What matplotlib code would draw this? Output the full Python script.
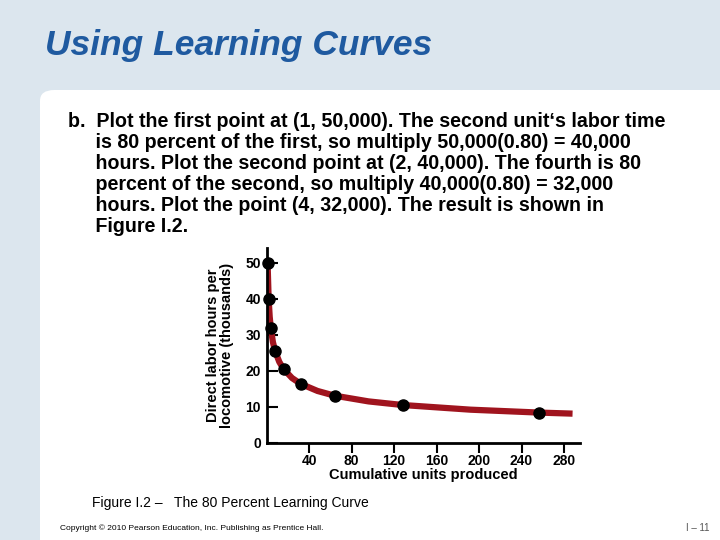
import matplotlib.pyplot as plt
from matplotlib.patches import FancyBboxPatch

plt.rcParams['font.family'] = ['Liberation Sans', 'DejaVu Sans']

units = [1, 2, 4, 8, 16, 32, 64, 128, 256]
hours = [50, 40, 32, 25.6, 20.5, 16.4, 13.1, 10.5, 8.4]
curve_x = [1, 2, 3, 4, 6, 8, 12, 16, 24, 32, 48, 64, 96, 128, 192, 256, 288]
curve_y = [50, 40, 35, 32, 28, 25.6, 22.5, 20.5, 18, 16.4, 14.4, 13.1, 11.5, 10.5, 9.2, 8.4, 8.1]
xticks = [40, 80, 120, 160, 200, 240, 280]
yticks = [0, 10, 20, 30, 40, 50]

fig = plt.figure(figsize=(7.2, 5.4), dpi=100)
fig.patch.set_facecolor('#dce6ee')
panel = FancyBboxPatch((40 / 720, -0.05), 0.99, 1 - 90 / 540 + 0.05,
                       boxstyle='round,pad=0,rounding_size=0.02',
                       transform=fig.transFigure, facecolor='white', edgecolor='none',
                       zorder=-10)
fig.patches.append(panel)

fig.text(45 / 720, 1 - 45 / 540, 'Using Learning Curves', fontsize=25.5, fontweight='bold',
         fontstyle='italic', color='#1f5aa0', va='center')

body = ("b.  Plot the first point at (1, 50,000). The second unit\u2018s labor time\n"
        "     is 80 percent of the first, so multiply 50,000(0.80) = 40,000\n"
        "     hours. Plot the second point at (2, 40,000). The fourth is 80\n"
        "     percent of the second, so multiply 40,000(0.80) = 32,000\n"
        "     hours. Plot the point (4, 32,000). The result is shown in\n"
        "     Figure I.2.")
fig.text(68 / 720, 1 - 112 / 540, body, fontsize=14.1, fontweight='bold', va='top',
         linespacing=1.14)

ax = fig.add_axes([266.5 / 720, 0.18, 313.5 / 720, 0.36])
ax.set_zorder(1)
ax.patch.set_alpha(0)
ax.plot(curve_x, curve_y, color='#a0141e', lw=4.5, solid_capstyle='butt', zorder=2)
ax.plot(units, hours, 'o', color='black', ms=8, zorder=3, clip_on=False)
ax.set_xlim(0, 295)
ax.set_ylim(0, 54)
ax.set_xticks(xticks)
ax.set_yticks(yticks)
ax.tick_params(axis='x', direction='out', length=7, width=1.5, labelsize=10, pad=1)
ax.tick_params(axis='y', direction='in', length=8, width=1.5, labelsize=10, pad=4)
for lab in ax.get_xticklabels() + ax.get_yticklabels():
    lab.set_fontweight('bold')
for s in ['top', 'right']:
    ax.spines[s].set_visible(False)
for s in ['left', 'bottom']:
    ax.spines[s].set_linewidth(2)
ax.set_xlabel('Cumulative units produced', fontsize=10.5, fontweight='bold', labelpad=0)
ax.set_ylabel('Direct labor hours per\nlocomotive (thousands)', fontsize=10.5,
              fontweight='bold', labelpad=8, linespacing=1.0)

fig.text(92 / 720, 1 - 503 / 540, 'Figure I.2 \u2013   The 80 Percent Learning Curve',
         fontsize=10, va='center')
fig.text(60 / 720, 1 - 528 / 540,
         'Copyright \u00a9 2010 Pearson Education, Inc. Publishing as Prentice Hall.',
         fontsize=6, va='center')
fig.text(710 / 720, 1 - 528 / 540, 'I \u2013 11', fontsize=7, va='center', ha='right',
         color='#555555')

fig.savefig('out.png', dpi=100, facecolor=fig.get_facecolor())
